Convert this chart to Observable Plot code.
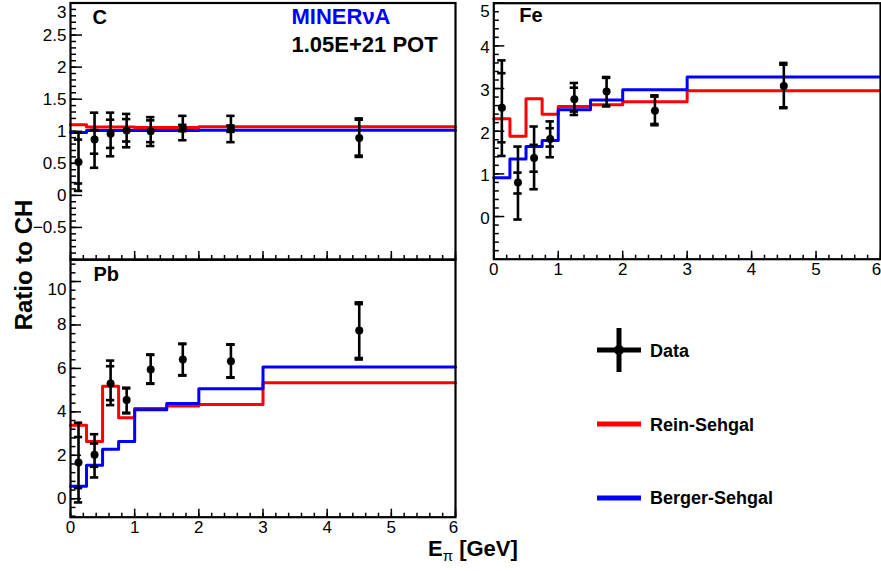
<!DOCTYPE html>
<html><head><meta charset="utf-8">
<script src="https://cdn.jsdelivr.net/npm/d3@7"></script>
<script src="https://cdn.jsdelivr.net/npm/@observablehq/plot@0.6"></script>
<style>
html,body{margin:0;padding:0;background:#fff;overflow:hidden;}
#wrap{position:relative;width:881px;height:571px;font-family:"Liberation Sans",Arial,sans-serif;}
#wrap svg.pl{position:absolute;}
#overlay{position:absolute;left:0;top:0;pointer-events:none;}
</style></head><body>
<div id="wrap"></div>
<script>
// ---- shared binning ----
const binEdges = [0, 0.25, 0.5, 0.75, 1, 1.5, 2, 3, 6];
const binCenters = [0.125, 0.375, 0.625, 0.875, 1.25, 1.75, 2.5, 4.5];
const xMajorTicks = [0, 1, 2, 3, 4, 5, 6];

// ---- Carbon ----
const cValue  = [0.52, 0.87, 0.96, 1.01, 1.00, 1.05, 1.04, 0.895];
const cTotLo  = [0.07, 0.43, 0.61, 0.75, 0.77, 0.86, 0.83, 0.60];
const cTotHi  = [0.98, 1.29, 1.29, 1.27, 1.22, 1.24, 1.24, 1.20];
const cStatLo = [0.185, 0.65, 0.74, 0.84, 0.83, 1.00, 0.99, 0.62];
const cStatHi = [0.87, 1.02, 1.18, 1.19, 1.17, 1.10, 1.09, 1.18];
const cRein   = [1.10, 1.065, 1.065, 1.065, 1.06, 1.06, 1.07, 1.07];
const cBerger = [0.98, 1.01, 1.01, 1.01, 1.01, 1.01, 1.015, 1.015];
const cYTicks = [-0.5, 0, 0.5, 1, 1.5, 2, 2.5, 3];

// ---- Iron ----
const feValue  = [2.55, 0.80, 1.37, 1.82, 2.75, 2.93, 2.48, 3.06];
const feTotLo  = [1.42, -0.07, 0.64, 1.39, 2.38, 2.58, 2.14, 2.54];
const feTotHi  = [3.66, 1.64, 2.11, 2.23, 3.13, 3.27, 2.84, 3.60];
const feStatLo = [1.74, 0.54, 1.05, 1.64, 2.46, 2.60, 2.17, 2.56];
const feStatHi = [3.36, 1.03, 1.68, 2.07, 3.02, 3.25, 2.81, 3.56];
const feRein   = [2.29, 1.88, 2.76, 2.40, 2.58, 2.62, 2.69, 2.95];
const feBerger = [0.91, 1.35, 1.64, 1.78, 2.50, 2.73, 2.97, 3.27];
const feYTicks = [0, 1, 2, 3, 4, 5];

// ---- Lead ----
const pbValue  = [1.67, 2.02, 5.31, 4.54, 5.95, 6.41, 6.33, 7.74];
const pbTotLo  = [-0.17, 0.98, 4.31, 3.93, 5.29, 5.67, 5.57, 6.41];
const pbTotHi  = [3.50, 2.97, 6.36, 5.11, 6.64, 7.14, 7.11, 9.04];
const pbStatLo = [0.49, 1.47, 4.54, 3.96, 5.31, 5.69, 5.59, 6.48];
const pbStatHi = [2.84, 2.54, 6.10, 5.08, 6.62, 7.12, 7.09, 8.96];
const pbRein   = [3.38, 2.63, 5.18, 3.73, 4.16, 4.27, 4.34, 5.34];
const pbBerger = [0.57, 1.54, 2.28, 2.63, 4.10, 4.39, 5.06, 6.06];
const pbYTicks = [0, 2, 4, 6, 8, 10];

const FONT = "'Liberation Sans', Arial, Helvetica, sans-serif";
const fmt = d => (d < 0 ? "\u2212" : "") + String(Math.abs(d));

function panel(cfg) {
  const {value, totLo, totHi, statLo, statHi, rein, berger, yDomain, yTicks, yMinorStep,
         shiftTop, shiftDy, baseDy, showX, lastXDx, width, height, ml, mr, mt, mb, yTickLen,
         texts} = cfg;
  const fw = width - ml - mr, fh = height - mt - mb;
  const pts = binCenters.map((x, i) => ({x, v: value[i], tl: totLo[i], th: totHi[i], sl: statLo[i], sh: statHi[i]}));
  const step = arr => binEdges.map((e, i) => ({x: e, y: arr[Math.min(i, arr.length - 1)]}));
  const capHalf = 0.065;
  const caps = pts.flatMap(d => [d.tl, d.th, d.sl, d.sh].map(y => ({x1: d.x - capHalf, x2: d.x + capHalf, y})));
  const yMinor = d3.range(Math.ceil(yDomain[0] / yMinorStep), Math.floor(yDomain[1] / yMinorStep + 1e-6) + 1).map(k => k * yMinorStep);
  const xMinor = d3.range(0, 31).map(k => k * 0.2);
  const normalLabels = yTicks.filter(t => t !== shiftTop);
  const marks = [
    Plot.tickY(yMinor, {y: d => d, insetRight: fw - yTickLen / 2, strokeWidth: 1.5, stroke: "black"}),
    Plot.tickY(yTicks, {y: d => d, insetRight: fw - yTickLen, strokeWidth: 1.5, stroke: "black"}),
    Plot.tickX(xMinor, {x: d => d, insetTop: fh - 4, strokeWidth: 1.5, stroke: "black"}),
    Plot.tickX(xMajorTicks, {x: d => d, insetTop: fh - 8, strokeWidth: 1.5, stroke: "black"}),
    Plot.line(step(rein), {x: "x", y: "y", curve: "step-after", stroke: "#ff0000", strokeWidth: 3}),
    Plot.line(step(berger), {x: "x", y: "y", curve: "step-after", stroke: "#0000ff", strokeWidth: 3}),
    Plot.ruleX(pts, {x: "x", y1: "tl", y2: "th", stroke: "black", strokeWidth: 2.6}),
    Plot.ruleY(caps, {y: "y", x1: "x1", x2: "x2", stroke: "black", strokeWidth: 2.6}),
    Plot.dot(pts, {x: "x", y: "v", r: 4, fill: "black", stroke: null}),
    Plot.frame({stroke: "black", strokeWidth: 2.2}),
    Plot.axisY(normalLabels, {tickSize: 0, tickPadding: 4, fontSize: 17, fill: "black", dy: baseDy || 0, label: null, tickFormat: fmt}),
  ];
  if (shiftTop !== undefined) {
    marks.push(Plot.axisY([shiftTop], {tickSize: 0, tickPadding: 4, fontSize: 17, fill: "black", dy: shiftDy, label: null, tickFormat: fmt}));
  }
  if (showX) {
    const lastX = xMajorTicks[xMajorTicks.length - 1];
    marks.push(Plot.axisX(xMajorTicks.filter(t => t !== lastX), {tickSize: 0, tickPadding: 4, fontSize: 17, fill: "black", label: null, tickFormat: fmt}));
    marks.push(Plot.axisX([lastX], {tickSize: 0, tickPadding: 4, fontSize: 17, fill: "black", label: null, dx: lastXDx || 0, tickFormat: fmt}));
  }
  for (const t of texts) {
    marks.push(Plot.text([t.text], {text: d => d, frameAnchor: "top-left", textAnchor: "start", lineAnchor: "top",
      dx: t.dx, dy: t.dy, fontSize: t.size, fontWeight: "bold", fill: t.color || "black", fontFamily: FONT}));
  }
  const svg = Plot.plot({
    width, height, marginLeft: ml, marginRight: mr, marginTop: mt, marginBottom: mb,
    x: {domain: [0, 6], label: null, axis: showX ? undefined : null},
    y: {domain: yDomain, label: null},
    style: {fontFamily: FONT, fontSize: "17px", background: "transparent", overflow: "visible", color: "black"},
    marks
  });
  svg.classList.add("pl");
  svg.style.left = cfg.left + "px";
  svg.style.top = cfg.top + "px";
  svg.style.maxWidth = "none";
  return svg;
}

const wrap = document.getElementById("wrap");

wrap.appendChild(panel({
  value: cValue, totLo: cTotLo, totHi: cTotHi, statLo: cStatLo, statHi: cStatHi,
  rein: cRein, berger: cBerger, yDomain: [-1, 3], yTicks: cYTicks, yMinorStep: 0.1,
  shiftTop: 3, shiftDy: 10, showX: false,
  left: 0, top: 0, width: 460, height: 262, ml: 70, mr: 5, mt: 2.5, mb: 3, yTickLen: 12,
  texts: [
    {text: "C", dx: 22, dy: 7, size: 20},
    {text: "MINERνA", dx: 221, dy: 5.5, size: 22, color: "#0000ff"},
    {text: "1.05E+21 POT", dx: 221, dy: 33, size: 22}
  ]
}));

wrap.appendChild(panel({
  value: feValue, totLo: feTotLo, totHi: feTotHi, statLo: feStatLo, statHi: feStatHi,
  rein: feRein, berger: feBerger, yDomain: [-1, 5], yTicks: feYTicks, yMinorStep: 0.2,
  shiftTop: 5, shiftDy: 8, baseDy: 2, showX: true, lastXDx: -4,
  left: 460, top: 0, width: 421, height: 290, ml: 33.3, mr: 1, mt: 2.7, mb: 31.3, yTickLen: 11,
  texts: [
    {text: "Fe", dx: 25.5, dy: 5, size: 20}
  ]
}));

wrap.appendChild(panel({
  value: pbValue, totLo: pbTotLo, totHi: pbTotHi, statLo: pbStatLo, statHi: pbStatHi,
  rein: pbRein, berger: pbBerger, yDomain: [-0.85, 11], yTicks: pbYTicks, yMinorStep: 0.4,
  shiftTop: 10, shiftDy: 8, showX: true, lastXDx: -2,
  left: 0, top: 250, width: 460, height: 321, ml: 70, mr: 5, mt: 9.3, mb: 54.3, yTickLen: 11,
  texts: [
    {text: "Pb", dx: 23, dy: 7, size: 20}
  ]
}));

// ---- overlay: axis titles and legend ----
const ov = `
<svg id="overlay" width="881" height="571" xmlns="http://www.w3.org/2000/svg" font-family="${FONT}">
  <text transform="translate(32,265) rotate(-90)" text-anchor="middle" font-weight="bold" font-size="24" fill="black">Ratio to CH</text>
  <text x="428" y="556" font-weight="bold" font-size="22" fill="black">E<tspan font-size="15" font-weight="normal" dy="5">π</tspan><tspan dy="-5"> [GeV]</tspan></text>
  <g stroke="black" stroke-width="5">
    <line x1="597" x2="641" y1="350" y2="350"/>
    <line x1="619" x2="619" y1="328" y2="372"/>
  </g>
  <circle cx="619" cy="350" r="5" fill="black"/>
  <text x="650" y="357" font-weight="bold" font-size="18" fill="black">Data</text>
  <line x1="597" x2="641" y1="424" y2="424" stroke="#ff0000" stroke-width="5"/>
  <text x="650" y="430.5" font-weight="bold" font-size="18" fill="black">Rein-Sehgal</text>
  <line x1="597" x2="641" y1="498" y2="498" stroke="#0000ff" stroke-width="5"/>
  <text x="650" y="504" font-weight="bold" font-size="18" fill="black">Berger-Sehgal</text>
</svg>`;
wrap.insertAdjacentHTML("beforeend", ov);
</script>
</body></html>
